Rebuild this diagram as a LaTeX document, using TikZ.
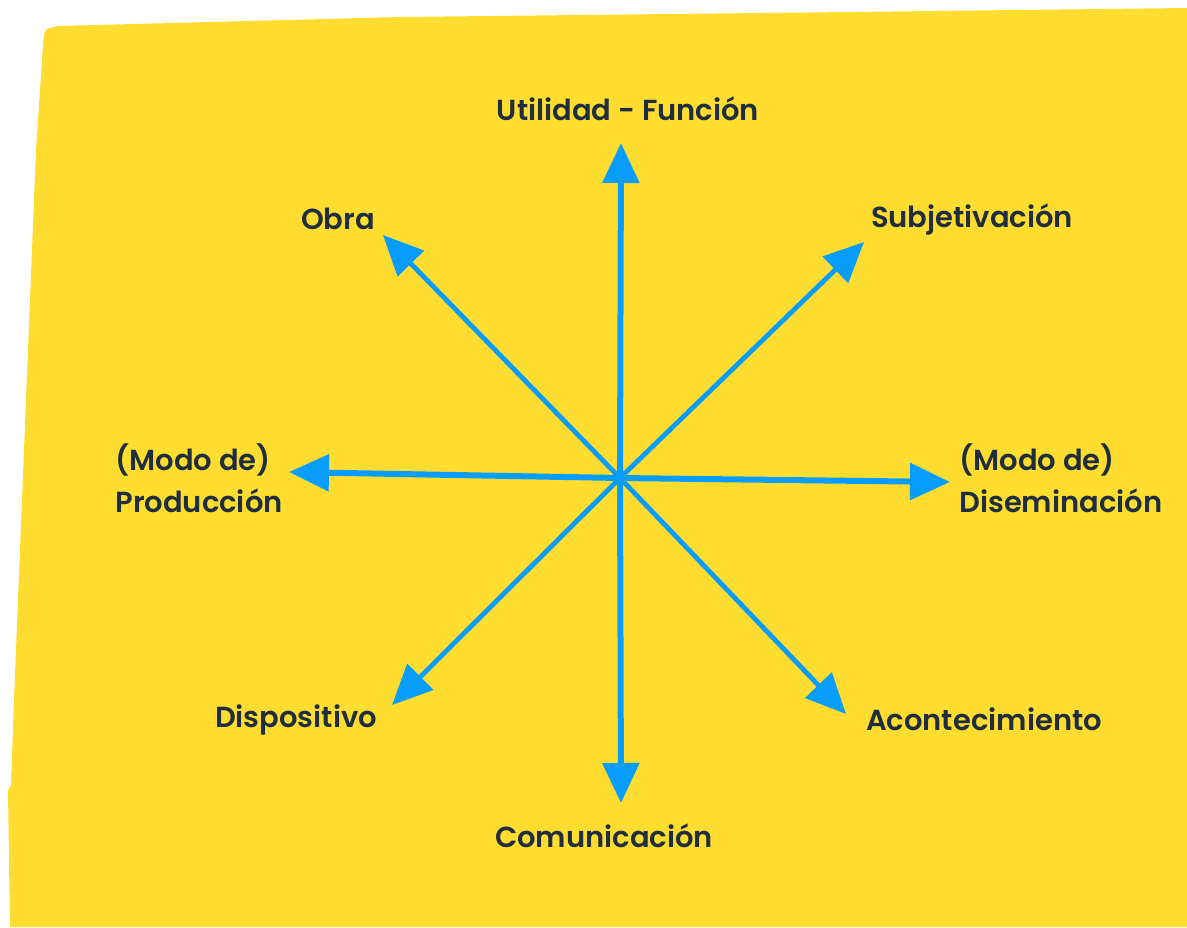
\documentclass[tikz,border=0pt]{standalone}
\usepackage{fontspec}
\setmainfont{Poppins}[BoldFont={Poppins SemiBold}]
\usetikzlibrary{arrows.meta}
\definecolor{notayellow}{HTML}{FEDD30}
\definecolor{flechablue}{HTML}{089DFD}
\definecolor{textonavy}{HTML}{1F2D3D}
\begin{document}
\begin{tikzpicture}[x=0.5pt, y=-0.5pt, font=\fontsize{14.5}{21}\selectfont\bfseries, line join=round, >={Triangle[length=20pt,width=18pt]},
		eje/.style={flechablue, line width=3pt, ->},
		diag/.style={flechablue, line width=2.4pt, ->},
		etiqueta/.style={textonavy, inner sep=0pt}]
		\useasboundingbox (0,0) rectangle (1187,927);
		% hoja amarilla
		\fill[notayellow] (58,26) -- (400,17) -- (850,12) -- (1187,8) -- (1187,927) -- (10,927) -- (8,790) -- (11,785)
			-- (14,700) -- (30,300) -- (36,150) -- (43,45) .. controls (44,29) .. (58,26) -- cycle;
		\path 
		(620,478) coordinate (O)
		(621,143) coordinate (N)
		(383,235) coordinate (NO)
		(864,242) coordinate (NE)
		(289,472) coordinate (W)
		(950,482) coordinate (E)
		(392,705) coordinate (SO)
		(846,714) coordinate (SE)
		(621,803) coordinate (S)
		;
		\foreach \fin in {N,W,E,S}{
			\draw[eje] (O) -- (\fin);
		}
		\foreach \fin in {NO,NE,SO,SE}{
			\draw[diag] (O) -- (\fin);
		}
		
		\node[etiqueta] (funcion) at (628,109) {Utilidad - Función};
		\node[etiqueta] (obra) at (338,219) {Obra};
		\node[etiqueta] (subjetivacion) at (972,219) {Subjetivación};
		\node[etiqueta, anchor=west, align=left] (produccion) at (115,478) {(Modo de)\\Producción};
		\node[etiqueta, anchor=west, align=left] (diseminacion) at (959,478) {(Modo de)\\Diseminación};
		\node[etiqueta] (dispositivo) at (296,720) {Dispositivo};
		\node[etiqueta] (acontecimiento) at (984,719) {Acontecimiento};
		\node[etiqueta] (comunicacion) at (604,836) {Comunicación};
\end{tikzpicture}
\end{document}
